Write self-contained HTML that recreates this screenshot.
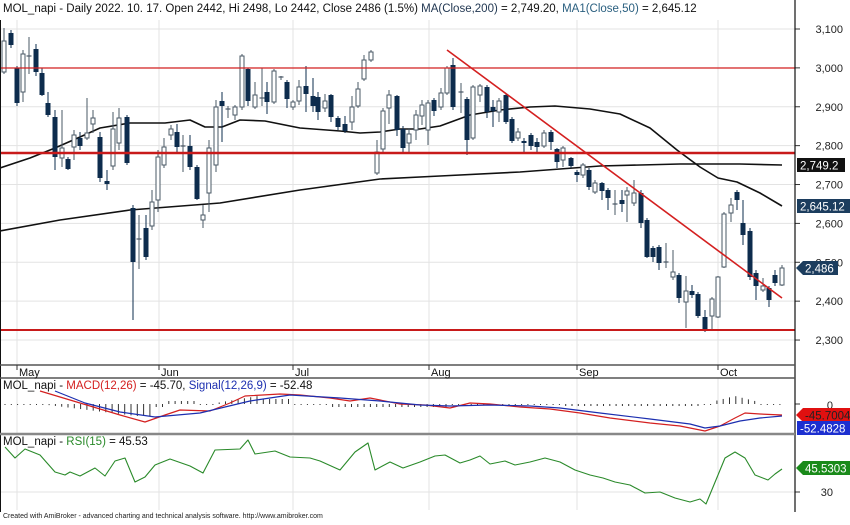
<!DOCTYPE html>
<html><head><meta charset="utf-8"><style>
html,body{margin:0;padding:0;background:#fff;}
body{width:850px;height:520px;overflow:hidden;font-family:"Liberation Sans",sans-serif;}
</style></head><body>
<svg id="s" width="850" height="520" xmlns="http://www.w3.org/2000/svg" font-family="Liberation Sans, sans-serif">
<rect width="850" height="520" fill="#fff"/>
<g id="grid" stroke="#e3e3e3" stroke-width="1"></g>
<g id="main"></g>
<text x="3" y="12" font-size="11.5" fill="#111">MOL_napi - Daily 2022. 10. 17. Open 2442, Hi 2498, Lo 2442, Close 2486 (1.5%) <tspan fill="#1f3550">MA(Close,200)</tspan> = 2,749.20, <tspan fill="#2b6080">MA1(Close,50)</tspan> = 2,645.12</text>
</svg>
<script>
const s=document.getElementById('s');
const NS='http://www.w3.org/2000/svg';
function el(t,a,p){const e=document.createElementNS(NS,t);for(const k in a)e.setAttribute(k,a[k]);(p||s).appendChild(e);return e;}
function txt(x,y,str,a){const e=el('text',Object.assign({x:x,y:y},a));e.textContent=str;return e;}
const g=document.getElementById('grid');
// vertical month grid
const mx=[17,159,293,429,577,718];
mx.forEach(x=>{el('line',{x1:x,y1:20,x2:x,y2:365},g);el('line',{x1:x,y1:378,x2:x,y2:433},g);el('line',{x1:x,y1:436,x2:x,y2:510},g);});
// horizontal price grid
const ticks=[3100,3000,2900,2800,2700,2600,2500,2400,2300];
function Y(p){return 29+(3100-p)*0.3888;}
ticks.forEach(p=>{const y=Y(p);el('line',{x1:0,y1:y,x2:795,y2:y},g);el('line',{x1:795,y1:y,x2:800,y2:y,stroke:'#333'});txt(843,y+4,p.toLocaleString('en-US'),{'font-size':11,'text-anchor':'end',fill:'#222'});});
el('line',{x1:0,y1:492,x2:795,y2:492},g);
el('line',{x1:795,y1:492,x2:800,y2:492,stroke:'#333'});
txt(833,496,'30',{'font-size':11,'text-anchor':'end',fill:'#222'});
el('line',{x1:795,y1:404,x2:800,y2:404,stroke:'#333'});
txt(833,409,'0',{'font-size':11,'text-anchor':'end',fill:'#222'});
const m=document.getElementById('main');
// MA lines
function poly(pts,st,w,par){el('polyline',{points:pts.map(p=>p.join(',')).join(' '),fill:'none',stroke:st,'stroke-width':w||1,'stroke-linejoin':'round'},par||m);}
poly([[0,231],[60,220],[130,210],[220,203],[300,190],[380,179],[440,176],[520,172],[600,166],[680,164],[740,164],[782,165]],'#111',1.6);
poly([[0,168],[30,158],[55,148],[80,137],[100,128],[130,123],[165,123],[190,120],[205,127],[222,127],[240,120],[265,121],[300,128],[340,131],[360,133],[380,132],[400,129],[420,129],[440,126],[470,115],[500,110],[530,107],[555,106],[590,109],[620,114],[650,128],[677,150],[700,167],[718,178],[737,182],[760,193],[782,206]],'#111',1.6);
// candles: x, y1,y2, type, wickTop, wickBot
const C=[[4,41,72,'w',28,74],[11,33,45,'d',30,48],[17,68,103,'d',66,106],[23,54,92,'w',50,102],[29,56,56,'x',37,74],[36,49,72,'d',44,76],[42,73,95,'d',68,96],[48,103,115,'d',92,117],[55,117,157,'d',110,170],[62,148,158,'w',110,167],[68,159,169,'d',157,170],[74,135,147,'w',130,160],[80,138,146,'d',132,150],[87,133,138,'w',98,140],[93,118,124,'w',110,133],[100,137,178,'d',132,182],[107,181,184,'d',170,190],[113,129,166,'w',112,170],[119,118,143,'w',108,150],[127,117,163,'d',115,165],[133,208,262,'d',205,320],[139,239,239,'x',215,269],[146,228,257,'d',215,260],[152,202,226,'w',190,230],[158,157,200,'w',150,212],[164,147,165,'w',138,168],[171,129,135,'w',125,140],[177,132,147,'d',124,152],[183,146,146,'x',135,172],[190,146,167,'d',135,170],[197,167,199,'d',165,200],[203,215,220,'w',205,228],[209,148,193,'w',140,212],[216,107,165,'w',100,172],[222,101,106,'d',92,142],[228,109,109,'x',106,118],[235,107,115,'w',105,120],[242,56,107,'w',54,110],[248,69,101,'d',68,106],[255,95,107,'w',82,109],[262,98,98,'x',68,106],[267,92,102,'d',82,114],[274,71,102,'w',69,104],[281,77,77,'x',76,80],[287,82,99,'d',80,108],[293,102,107,'w',100,110],[299,87,101,'w',80,105],[306,86,94,'d',66,112],[313,96,106,'d',78,112],[318,97,112,'d',92,120],[325,101,108,'w',94,112],[331,95,117,'d',94,122],[338,118,127,'d',116,130],[345,124,131,'d',116,133],[352,107,122,'w',96,130],[358,89,106,'w',82,108],[364,60,79,'w',55,81],[371,52,60,'w',50,62],[377,152,173,'w',140,175],[383,111,149,'w',108,152],[389,95,108,'w',90,124],[397,96,130,'d',95,136],[403,129,148,'d',126,152],[409,134,143,'w',128,153],[416,115,130,'w',110,140],[422,105,116,'w',100,125],[428,103,130,'w',100,145],[434,100,111,'d',98,116],[441,93,107,'w',88,110],[447,68,93,'w',66,95],[453,65,107,'d',58,110],[461,92,92,'x',83,113],[467,99,140,'d',97,155],[473,87,138,'w',85,140],[480,86,95,'w',84,102],[487,87,112,'d',85,118],[493,107,111,'d',100,127],[499,101,112,'w',98,122],[506,95,122,'d',93,124],[512,119,141,'d',117,143],[518,132,138,'w',128,141],[524,141,143,'d',138,152],[531,135,146,'d',133,150],[537,142,147,'d',138,152],[544,133,146,'w',130,148],[551,132,142,'d',130,150],[557,149,162,'d',148,168],[563,148,160,'w',146,167],[571,158,166,'d',157,168],[577,172,175,'d',170,182],[583,165,175,'w',163,178],[589,170,187,'d',168,190],[595,183,192,'w',180,194],[602,183,191,'d',182,200],[608,190,198,'d',188,210],[615,204,204,'x',190,215],[622,200,204,'d',190,212],[627,191,195,'w',187,222],[634,193,203,'w',180,206],[641,193,223,'d',190,228],[647,220,257,'d',218,258],[653,248,257,'d',246,262],[659,247,263,'d',245,270],[666,262,262,'x',243,268],[673,272,277,'w',250,280],[679,275,298,'d',273,303],[686,291,302,'w',276,328],[692,291,295,'d',285,298],[698,294,316,'d',292,318],[705,317,330,'d',310,332],[712,299,316,'w',297,330],[718,277,317,'w',276,318],[724,214,267,'w',212,268],[731,205,213,'w',198,222],[737,192,200,'d',190,210],[743,223,235,'d',200,245],[750,231,277,'d',228,280],[756,273,286,'d',270,300],[763,286,290,'w',278,292],[769,288,300,'d',286,307],[775,275,283,'d',270,286],[782,268,285,'w',265,286]];
C.forEach(c=>{const [x,a,b,t,wt,wb]=c;
 const col=t=='d'?'#0d2c4d':'#4a5866';
 el('line',{x1:x,y1:wt,x2:x,y2:wb,stroke:col,'stroke-width':1},m);
 if(t=='x'){el('line',{x1:x-2.5,y1:a,x2:x+2.5,y2:a,stroke:col,'stroke-width':1.2},m);}
 else if(t=='d'){el('rect',{x:x-2.5,y:a,width:5,height:Math.max(b-a,1.5),fill:'#0d2c4d'},m);}
 else{el('rect',{x:x-2,y:a,width:4,height:Math.max(b-a,1.5),fill:'#fff',stroke:'#4a5866','stroke-width':1},m);}
});
// red lines
el('line',{x1:0,y1:68,x2:795,y2:68,stroke:'#d42020','stroke-width':1.2},m);
el('line',{x1:0,y1:153,x2:795,y2:153,stroke:'#c81a1a','stroke-width':2.4},m);
el('line',{x1:0,y1:330,x2:795,y2:330,stroke:'#c81a1a','stroke-width':2},m);
el('line',{x1:447,y1:50,x2:782,y2:298,stroke:'#d42020','stroke-width':1.6},m);
// frames
el('line',{x1:795,y1:0,x2:795,y2:512,stroke:'#111','stroke-width':1.2});
el('line',{x1:0.5,y1:20,x2:0.5,y2:512,stroke:'#111','stroke-width':1});
el('line',{x1:0,y1:365,x2:795,y2:365,stroke:'#555','stroke-width':1.5});
el('line',{x1:0,y1:378,x2:795,y2:378,stroke:'#555','stroke-width':1.5});
el('line',{x1:0,y1:434,x2:795,y2:434,stroke:'#888','stroke-width':2.5});
// month labels
const ml=['May','Jun','Jul','Aug','Sep','Oct'];
mx.forEach((x,i)=>{el('line',{x1:x,y1:365,x2:x,y2:370,stroke:'#333'});txt(x+2,376,ml[i],{'font-size':11,fill:'#111'});});
// MACD
const mac=document.createElementNS(NS,'g');s.appendChild(mac);
for(let x=5;x<785;x+=6.3){
 let h=0;
 if(x>40&&x<150)h=Math.min(12,(x-40)/8);
 else if(x>150&&x<165)h=3;
 else if(x>165&&x<200)h=-3;
 else if(x>210&&x<260)h=-(x-210)/6;
 else if(x>260&&x<290)h=-5;
 else if(x>330&&x<450)h=3;
 else if(x>560&&x<700)h=2;
 else if(x>715&&x<760)h=-8+Math.abs(x-735)/4;
 el('line',{x1:x,y1:404,x2:x,y2:404+(Math.abs(h)<1?1:h),stroke:'#333','stroke-width':1},mac);
}
poly([[40,391],[80,403],[120,415],[145,422],[165,415],[180,410],[210,411],[230,403],[245,396],[280,394],[300,395],[330,398],[350,401],[370,398],[400,404],[425,405],[450,408],[470,403],[490,404],[520,407],[550,409],[580,413],[610,418],[650,423],[680,426],[705,431],[720,426],[735,418],[745,413],[760,414],[782,415]],'#d42020',1.2,mac);
poly([[55,391],[85,403],[120,412],[155,417],[200,413],[250,401],[290,395],[340,398],[380,401],[420,405],[450,406],[490,405],[530,406],[560,408],[600,413],[650,419],[690,424],[705,428],[720,426],[740,421],[760,418],[782,416]],'#1c2fb0',1.2,mac);
txt(3,390,'',{});
const t1=txt(3,389,'MOL_napi - ',{'font-size':11.5,fill:'#111'});
const sp=(p,str,c)=>{const e=document.createElementNS(NS,'tspan');if(c)e.setAttribute('fill',c);e.textContent=str;p.appendChild(e);};
sp(t1,'MACD(12,26)','#d42020');sp(t1,' = -45.70, ');sp(t1,'Signal(12,26,9)','#1c2fb0');sp(t1,' = -52.48');
// RSI
poly([[5,447],[15,458],[25,449],[40,455],[55,472],[65,475],[70,472],[80,476],[95,468],[105,476],[115,461],[125,458],[135,482],[145,477],[155,465],[170,459],[190,466],[203,473],[215,450],[240,449],[248,440],[255,454],[275,451],[290,457],[310,458],[320,461],[340,470],[355,452],[368,443],[375,470],[390,462],[403,468],[420,462],[435,456],[445,455],[460,463],[470,460],[480,456],[490,464],[505,461],[515,465],[530,462],[545,458],[560,462],[575,470],[590,475],[603,478],[615,482],[630,485],[645,493],[660,492],[675,498],[690,502],[700,499],[706,504],[718,475],[725,458],[735,452],[745,458],[755,475],[768,480],[775,474],[782,469]],'#2a8a2a',1.1);
const t2=txt(3,445,'MOL_napi - ',{'font-size':11.5,fill:'#111'});
sp(t2,'RSI(15)','#2a8a2a');sp(t2,' = 45.53');
// right value labels
function tag(y,w,str,bg,fg,arrow){
 const pts=arrow?`796,${y} 803,${y-7} ${796+w},${y-7} ${796+w},${y+7} 803,${y+7}`:`797,${y-7} ${797+w},${y-7} ${797+w},${y+7} 797,${y+7}`;
 el('polygon',{points:pts,fill:bg});
 txt(arrow?805:800,y+4.5,str,{'font-size':11.5,fill:fg});
}
tag(165,48,'2,749.2','#111','#fff',false);
tag(206,53,'2,645.12','#1c3d5e','#fff',false);
tag(268,42,'2,486','#1c3d5e','#fff',true);
tag(415,54,'-45.7004','#e01010','#222',true);
tag(428,54,'-52.4828','#1c2fd0','#fff',false);
tag(468,54,'45.5303','#1a8a1a','#fff',true);
txt(3,518,'Created with AmiBroker - advanced charting and technical analysis software. http://www.amibroker.com',{'font-size':7,fill:'#222'});
</script>
</body></html>
